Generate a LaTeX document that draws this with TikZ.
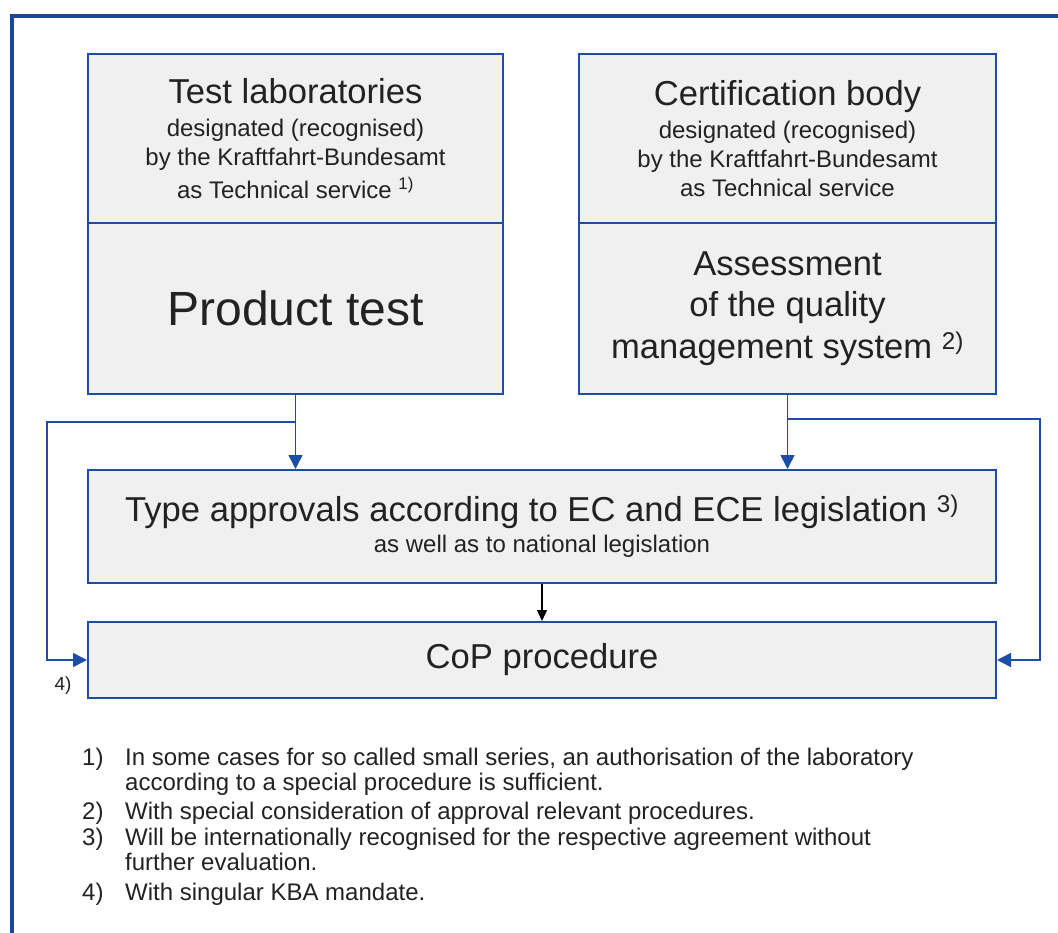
\documentclass[tikz,border=0pt]{standalone}
\usepackage{fontspec}
\setmainfont{Liberation Sans}
\usetikzlibrary{arrows.meta}

\definecolor{kbablue}{RGB}{28,78,168}
\definecolor{boxgray}{RGB}{240,240,240}
\definecolor{inkgray}{RGB}{34,34,34}

\newcommand{\bigfont}{\fontsize{34.6}{36}\selectfont}
\newcommand{\midfont}{\fontsize{24}{29}\selectfont}

\tikzset{
    box/.style={draw=kbablue, fill=boxgray, line width=2pt, inner sep=0pt,
        anchor=north west, align=center, text=inkgray},
    feed/.style={draw=kbablue, line width=1.6pt, line join=miter,
        -{Triangle[width=14pt,length=14pt]}},
    notetext/.style={anchor=north west, align=left, inner sep=0pt, text=inkgray,
        font=\fontsize{24}{25}\selectfont},
}

\begin{document}
\begin{tikzpicture}[x=1pt, y=-1pt]
    \useasboundingbox (0,0) rectangle (1058,933);

    % Outer frame
    \draw[kbablue!90!black, line width=3.5pt] (12,933) -- (12,16) -- (1058,16);

    % Upper boxes
    \node[box, font=\midfont, minimum width=415pt, minimum height=169pt] (lab) at (87,53)
        {\bigfont Test laboratories\\[4pt]
         designated (recognised)\\ by the Kraftfahrt-Bundesamt\\[4pt]
         as Technical service \textsuperscript{1)}};
    \node[box, font=\fontsize{48}{50}\selectfont, minimum width=415pt, minimum height=171pt] (ptest) at (87,222)
        {Product test};

    \node[box, font=\midfont, minimum width=417pt, minimum height=169pt] (cert) at (578,53)
        {\bigfont Certification body\\[4pt]
         designated (recognised)\\ by the Kraftfahrt-Bundesamt\\
         as Technical service};
    \node[box, font=\fontsize{34.6}{41.5}\selectfont, minimum width=417pt, minimum height=171pt] (qms) at (578,222)
        {Assessment\\ of the quality\\ management system \textsuperscript{2)}};

    % Lower boxes
    \node[box, font=\midfont, minimum width=908pt, minimum height=113pt] (ta) at (87,469)
        {\bigfont Type approvals according to EC and ECE legislation \textsuperscript{3)}\\[2pt]
         as well as to national legislation};
    \node[box, font=\bigfont, minimum width=908pt, minimum height=76pt] (cop) at (87,621)
        {CoP procedure};

    % Arrows
    \coordinate (lsplit) at (ptest.south |- 0,422);
    \coordinate (lturn) at (47,422);
    \coordinate (rsplit) at (qms.south |- 0,419);
    \coordinate (rturn) at (1040,419);

    \draw[feed] (ptest.south) -- (ptest.south |- ta.north);
    \draw[feed] (qms.south) -- (qms.south |- ta.north);
    \draw[feed] (lsplit) -- (lturn) |- (cop.west);
    \draw[feed] (rsplit) -- (rturn) |- (cop.east);
    \draw[black, line width=1.4pt, -{Triangle[width=10pt,length=11pt]}] (ta.south) -- (cop.north);

    \node[text=inkgray, font=\fontsize{19}{20}\selectfont, inner sep=0pt] (mandate) at (63,686) {4)};

    % Footnotes
    \foreach \n/\yt/\txt in {
        1/748/{\strut In some cases for so called small series, an authorisation of the laboratory\\according to a special procedure is sufficient.},
        2/802/{\strut With special consideration of approval relevant procedures.},
        3/828/{\strut Will be internationally recognised for the respective agreement without\\further evaluation.},
        4/883/{\strut With singular KBA mandate.}} {
        \node[notetext] (fnnum\n) at (82,\yt) {\strut\n)};
        \node[notetext] (fn\n) at (125,\yt) {\txt};
    }
\end{tikzpicture}
\end{document}
